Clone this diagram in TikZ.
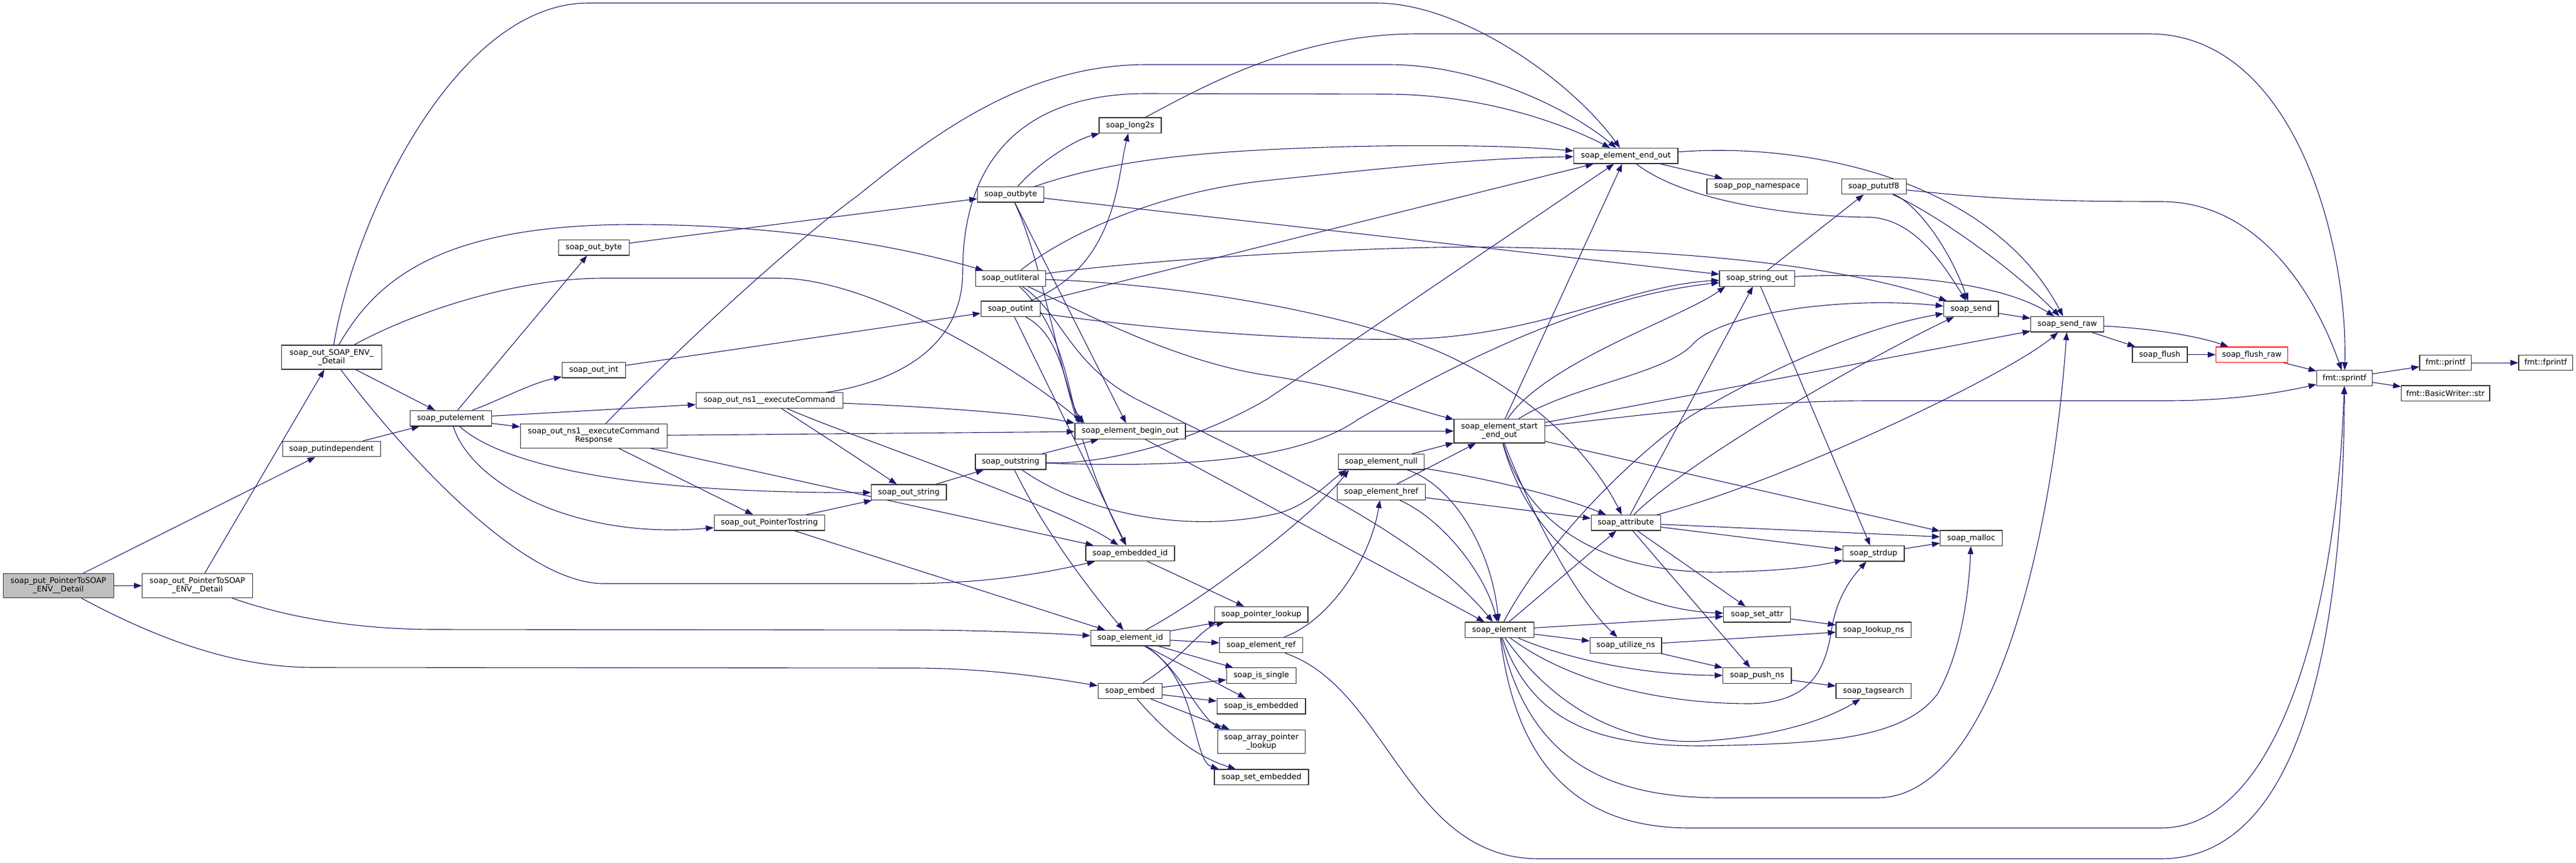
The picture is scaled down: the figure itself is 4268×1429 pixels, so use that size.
\documentclass[tikz,border=0pt]{standalone}
\usepackage{fontspec}
\setmainfont{DejaVu Sans}
\usetikzlibrary{arrows.meta,backgrounds}
\pgfdeclarelayer{paper}
\pgfdeclarelayer{background}
\pgfsetlayers{paper,background,main}
\definecolor{edgec}{HTML}{191970}
\tikzset{
  fn/.style={draw=black!80, line width=1.2pt, fill=white, inner sep=0pt, align=center,
    font=\fontsize{12.9pt}{14pt}\selectfont, minimum height=25.5pt},
  fntwo/.style={fn, minimum height=40pt},
  ln/.style={draw=edgec, line width=1.1pt, -{Triangle[length=13pt,width=9.5pt]}},
}
\begin{document}
\begin{tikzpicture}[x=1pt,y=-1pt]
\useasboundingbox (0,0) rectangle (4268,1429);
\begin{pgfonlayer}{paper}
\fill[white] (0,0) rectangle (4268,1429);
\end{pgfonlayer}
% nodes
\node[fntwo, minimum width=183pt, fill=black!25] (put) at (96.6,970.5) {soap\_put\_PointerToSOAP\\\_ENV\_\_Detail};
\node[fntwo, minimum width=183pt] (outP) at (327.1,970.5) {soap\_out\_PointerToSOAP\\\_ENV\_\_Detail};
\node[fntwo, minimum width=166pt] (outS) at (549.4,592) {soap\_out\_SOAP\_ENV\_\\\_Detail};
\node[fn, minimum width=162pt] (putind) at (549.1,744) {soap\_putindependent};
\node[fn, minimum width=135pt] (pe) at (746.9,693.2) {soap\_putelement};
\node[fn, minimum width=117pt] (outbyte0) at (983.8,410.3) {soap\_out\_byte};
\node[fn, minimum width=105pt] (outint0) at (983.8,613.2) {soap\_out\_int};
\node[fn, minimum width=243pt] (execC) at (1274.6,663.6) {soap\_out\_ns1\_\_executeCommand};
\node[fntwo, minimum width=243pt] (execR) at (983.8,722.3) {soap\_out\_ns1\_\_executeCommand\\Response};
\node[fn, minimum width=183pt] (ptrstr) at (1274.6,866.2) {soap\_out\_PointerTostring};
\node[fn, minimum width=124.4pt] (outstr0) at (1505.8,815.8) {soap\_out\_string};
\node[fn, minimum width=103pt] (long2s) at (1872.5,207.8) {soap\_long2s};
\node[fn, minimum width=110pt] (outbyte) at (1674.6,322.3) {soap\_outbyte};
\node[fn, minimum width=116pt] (outlit) at (1674.4,461.4) {soap\_outliteral};
\node[fn, minimum width=98pt] (outint) at (1674.3,511.8) {soap\_outint};
\node[fn, minimum width=183pt] (ebo) at (1872.4,714.5) {soap\_element\_begin\_out};
\node[fn, minimum width=117pt] (outstring) at (1674.4,765.3) {soap\_outstring};
\node[fn, minimum width=147pt] (embid) at (1872.4,916.9) {soap\_embedded\_id};
\node[fn, minimum width=131pt] (elid) at (1872.7,1057.3) {soap\_element\_id};
\node[fn, minimum width=106pt] (embed) at (1872.2,1145) {soap\_embed};
\node[fn, minimum width=154.5pt] (ptrlk) at (2089.8,1018.2) {soap\_pointer\_lookup};
\node[fn, minimum width=137.6pt] (elref) at (2089.5,1068.9) {soap\_element\_ref};
\node[fn, minimum width=115pt] (issingle) at (2089.8,1119.6) {soap\_is\_single};
\node[fn, minimum width=146.7pt] (isemb) at (2089.6,1170.3) {soap\_is\_embedded};
\node[fntwo, minimum width=145.3pt, minimum height=39.5pt] (arrptr) at (2089.8,1228.9) {soap\_array\_pointer\\\_lookup};
\node[fn, minimum width=156pt] (setemb) at (2090,1287.7) {soap\_set\_embedded};
\node[fn, minimum width=172.7pt] (eeo) at (2693.7,258.3) {soap\_element\_end\_out};
\node[fntwo, minimum width=150.6pt, minimum height=39.3pt] (eseo) at (2484.3,714.3) {soap\_element\_start\\\_end\_out};
\node[fn, minimum width=142pt] (enull) at (2288.4,765.3) {soap\_element\_null};
\node[fn, minimum width=145.5pt] (href) at (2288.4,815.5) {soap\_element\_href};
\node[fn, minimum width=115pt] (attr) at (2693.7,866.2) {soap\_attribute};
\node[fn, minimum width=114pt] (elem) at (2484.3,1043.8) {soap\_element};
\node[fn, minimum width=118.5pt] (utns) at (2693.7,1069.4) {soap\_utilize\_ns};
\node[fn, minimum width=166.7pt] (popns) at (2911.4,309) {soap\_pop\_namespace};
\node[fn, minimum width=107pt] (pututf8) at (3104.6,309) {soap\_pututf8};
\node[fn, minimum width=124.5pt] (strout) at (2911.3,461.4) {soap\_string\_out};
\node[fn, minimum width=90.4pt] (send) at (3265.8,511.8) {soap\_send};
\node[fn, minimum width=120.8pt] (sendraw) at (3425.1,537.3) {soap\_send\_raw};
\node[fn, minimum width=102.8pt] (malloc) at (3266,891.8) {soap\_malloc};
\node[fn, minimum width=101.5pt] (strdup) at (3104.2,917.2) {soap\_strdup};
\node[fn, minimum width=111pt] (setattr) at (2911.2,1018.2) {soap\_set\_attr};
\node[fn, minimum width=124.4pt] (lookupns) at (3104.2,1043.8) {soap\_lookup\_ns};
\node[fn, minimum width=113.4pt] (pushns) at (2911.3,1119.6) {soap\_push\_ns};
\node[fn, minimum width=124.4pt] (tagsearch) at (3104.2,1145.1) {soap\_tagsearch};
\node[fn, minimum width=91pt] (flush) at (3578.4,587.7) {soap\_flush};
\node[fn, minimum width=119pt, draw=red] (flushraw) at (3730.9,587.7) {soap\_flush\_raw};
\node[fn, minimum width=92pt] (sprintf) at (3884.4,626.6) {fmt::sprintf};
\node[fn, minimum width=85.7pt] (printf) at (4051.7,601.1) {fmt::printf};
\node[fn, minimum width=89.6pt] (fprintf) at (4217.7,601.1) {fmt::fprintf};
\node[fn, minimum width=146.4pt] (bwstr) at (4051.7,651.8) {fmt::BasicWriter::str};

\begin{pgfonlayer}{background}
% put
\draw[ln] (put) -- (outP);
\draw[ln] (put) -- (putind);
\draw[ln] (put) .. controls (300,1080) and (420,1106) .. (520,1106) -- (1520,1107) .. controls (1650,1108) and (1750,1125) .. (embed);
% outP
\draw[ln] (outP) -- (outS);
\draw[ln] (outP) .. controls (480,1025) and (600,1043) .. (720,1043) -- (1540,1044) .. controls (1650,1045) and (1750,1050) .. (elid);
% outS
\draw[ln] (outS) .. controls (590,350) and (760,5) .. (975,5) -- (2280,5) .. controls (2420,5) and (2600,130) .. (eeo);
\draw[ln] (outS) .. controls (620,470) and (720,372) .. (1050,372) .. controls (1300,372) and (1500,410) .. (outlit);
\draw[ln] (outS) .. controls (680,520) and (850,461) .. (1000,461) -- (1290,461) .. controls (1450,461) and (1700,620) .. ([xshift=14pt]ebo.north west);
\draw[ln] (outS) -- (pe);
\draw[ln] (outS) .. controls (630,700) and (850,967) .. (1000,967) -- (1500,967) .. controls (1650,967) and (1750,945) .. (embid);
% putindependent
\draw[ln] (putind) -- (pe);
% putelement
\draw[ln] (pe) -- (outbyte0);
\draw[ln] (pe) .. controls (830,662) and (880,635) .. (outint0);
\draw[ln] (pe) -- (execC);
\draw[ln] (pe) -- (execR);
\draw[ln] (pe) .. controls (780,800) and (950,895) .. (ptrstr);
\draw[ln] (pe) .. controls (820,760) and (1000,818) .. (outstr0);
% out_byte, out_int
\draw[ln] (outbyte0) -- (outbyte);
\draw[ln] (outint0) -- (outint);
% executeCommand
\draw[ln] (execC) .. controls (1440,640) and (1595,600) .. (1595,450) .. controls (1595,260) and (1700,155) .. (1900,155) -- (2300,156) .. controls (2450,157) and (2580,200) .. (eeo);
\draw[ln] (execC) .. controls (1500,672) and (1700,684) .. (ebo.north west);
\draw[ln] (execC) .. controls (1330,700) and (1400,745) .. (outstr0);
\draw[ln] (execC) .. controls (1400,720) and (1760,840) .. (embid);
% executeCommandResponse
\draw[ln] (execR) .. controls (1150,550) and (1330,390) .. (1420,325) .. controls (1550,220) and (1700,107) .. (1900,107) -- (2300,107) .. controls (2450,107) and (2600,180) .. (eeo);
\draw[ln] (execR) -- (ebo);
\draw[ln] (execR) -- (ptrstr);
\draw[ln] (execR) -- (embid);
% PointerTostring
\draw[ln] (ptrstr) -- (outstr0);
\draw[ln] (ptrstr) -- (elid);
% out_string
\draw[ln] (outstr0) -- (outstring);
% outbyte
\draw[ln] (outbyte) .. controls (1720,270) and (1780,232) .. (long2s);
\draw[ln] (outbyte) .. controls (1800,280) and (1900,258) .. (2100,248) .. controls (2300,238) and (2500,240) .. (eeo);
\draw[ln] (outbyte) -- (strout);
\draw[ln] (outbyte) -- (ebo);
\draw[ln] (outbyte) .. controls (1740,460) and (1760,700) .. (embid);
% outint
\draw[ln] (outint) .. controls (1850,440) and (1850,300) .. (long2s);
\draw[ln] (outint) -- (eeo);
\draw[ln] (outint) .. controls (1900,545) and (2150,565) .. (2330,562) .. controls (2550,558) and (2700,472) .. (strout);
\draw[ln] (outint) -- (embid);
\draw[ln] (outint) .. controls (1765,560) and (1765,660) .. ([xshift=16pt]ebo.north west);
% outliteral
\draw[ln] (outlit) .. controls (1750,400) and (1900,320) .. (2100,299) .. controls (2300,278) and (2450,262) .. (eeo);
\draw[ln] (outlit) .. controls (1900,430) and (2300,405) .. (2500,410) .. controls (2800,415) and (3050,440) .. (send);
\draw[ln] (outlit) .. controls (1950,470) and (2250,520) .. (2400,590) .. controls (2550,660) and (2640,760) .. (attr);
\draw[ln] (outlit) .. controls (1760,520) and (1770,600) .. (1880,660) .. controls (2100,770) and (2350,880) .. (elem);
\draw[ln] (outlit) .. controls (1760,540) and (1770,650) .. ([xshift=8pt]ebo.north west);
\draw[ln] (outlit) .. controls (1800,520) and (1950,600) .. (2100,622) .. controls (2250,645) and (2350,680) .. (eseo);
% outstring
\draw[ln] (outstring) -- (ebo);
\draw[ln] (outstring) .. controls (1850,770) and (2000,720) .. (2100,661) -- (eeo);
\draw[ln] (outstring) .. controls (1950,775) and (2150,765) .. (2250,695) .. controls (2450,580) and (2650,490) .. (strout);
\draw[ln] (outstring) .. controls (1780,840) and (1950,890) .. (2120,850) .. controls (2170,835) and (2200,800) .. ([xshift=14pt]enull.south west);
\draw[ln] (outstring) .. controls (1720,860) and (1790,960) .. (elid);
% long2s
\draw[ln] (long2s) .. controls (2000,140) and (2150,56) .. (2350,56) -- (3560,56) .. controls (3800,56) and (3890,400) .. (sprintf);
% element_begin_out
\draw[ln] (ebo) -- (eseo);
\draw[ln] (ebo) -- (elem);
% embedded_id
\draw[ln] (embid) -- (ptrlk);
% element_id
\draw[ln] (elid) .. controls (2000,990) and (2180,850) .. ([xshift=18pt]enull.south west);
\draw[ln] (elid) -- (ptrlk);
\draw[ln] (elid) -- (elref);
\draw[ln] (elid) -- (issingle);
\draw[ln] (elid) -- (isemb);
\draw[ln] (elid) .. controls (1950,1100) and (1985,1185) .. ([xshift=8pt]arrptr.north west);
\draw[ln] (elid) .. controls (1985,1120) and (1975,1260) .. ([xshift=8pt]setemb.north west);
% embed
\draw[ln] (embed) .. controls (1960,1090) and (1990,1040) .. (ptrlk);
\draw[ln] (embed) -- (issingle);
\draw[ln] (embed) -- (isemb);
\draw[ln] (embed) -- (arrptr);
\draw[ln] (embed) .. controls (1920,1200) and (1970,1250) .. (setemb);
% element_ref
\draw[ln] (elref) .. controls (2200,1030) and (2270,930) .. (href);
\draw[ln] (elref) .. controls (2300,1140) and (2330,1423) .. (2550,1423) -- (3580,1423) .. controls (3800,1423) and (3882,1100) .. (sprintf);
% element_null
\draw[ln] (enull) -- (eseo);
\draw[ln] (enull) .. controls (2450,790) and (2580,820) .. (attr);
\draw[ln] (enull) .. controls (2400,800) and (2470,900) .. (elem);
% element_href
\draw[ln] (href) -- (eseo);
\draw[ln] (href) -- (attr);
\draw[ln] (href) .. controls (2390,860) and (2460,950) .. (elem);
% element_start_end_out
\draw[ln] (eseo) -- (eeo);
\draw[ln] (eseo) .. controls (2560,600) and (2790,525) .. ([xshift=10pt]strout.south west);
\draw[ln] (eseo) .. controls (2600,640) and (2760,620) .. (2805,570) .. controls (2850,520) and (3050,490) .. (send);
\draw[ln] (eseo) -- (sendraw);
\draw[ln] (eseo) .. controls (2700,690) and (2900,664) .. (3100,664) -- (3590,664) .. controls (3700,664) and (3780,650) .. (sprintf);
\draw[ln] (eseo) -- (malloc);
\draw[ln] (eseo) .. controls (2530,830) and (2600,980) .. (utns);
\draw[ln] (eseo) .. controls (2540,900) and (2700,950) .. (2850,948) .. controls (2950,946) and (3000,940) .. (strdup);
\draw[ln] (eseo) .. controls (2540,920) and (2700,1010) .. (setattr);
% element_end_out
\draw[ln] (eeo) -- (popns);
\draw[ln] (eeo) .. controls (2800,340) and (3000,360) .. (3100,360) .. controls (3170,365) and (3215,430) .. (send);
\draw[ln] (eeo) .. controls (3000,235) and (3300,300) .. (sendraw);
% element
\draw[ln] (elem) .. controls (2560,900) and (2700,760) .. (2800,690) .. controls (2950,600) and (3100,540) .. (send);
\draw[ln] (elem) -- (attr);
\draw[ln] (elem) -- (setattr);
\draw[ln] (elem) -- (utns);
\draw[ln] (elem) .. controls (2580,1085) and (2700,1118) .. (pushns);
\draw[ln] (elem) .. controls (2600,1130) and (2750,1166) .. (2900,1166) .. controls (3000,1164) and (3025,1110) .. (3035,1040) .. controls (3045,985) and (3070,955) .. (strdup);
\draw[ln] (elem) .. controls (2580,1180) and (2700,1235) .. (2820,1228) .. controls (2950,1220) and (3030,1190) .. (tagsearch);
\draw[ln] (elem) .. controls (2540,1200) and (2650,1236) .. (2820,1236) .. controls (3000,1232) and (3150,1230) .. (3210,1150) .. controls (3250,1080) and (3262,980) .. (malloc);
\draw[ln] (elem) .. controls (2530,1250) and (2650,1322) .. (2850,1322) -- (3110,1322) .. controls (3300,1322) and (3400,900) .. (sendraw);
\draw[ln] (elem) .. controls (2510,1250) and (2600,1372) .. (2800,1372) -- (3580,1372) .. controls (3780,1372) and (3872,1000) .. (sprintf);
% attribute
\draw[ln] (attr) -- (strout);
\draw[ln] (attr) .. controls (2800,760) and (3100,590) .. (send);
\draw[ln] (attr) .. controls (2950,800) and (3330,620) .. (sendraw);
\draw[ln] (attr) -- (malloc);
\draw[ln] (attr) -- (strdup);
\draw[ln] (attr) -- (setattr);
\draw[ln] (attr) -- (pushns);
% utilize_ns
\draw[ln] (utns) -- (lookupns);
\draw[ln] (utns) -- (pushns);
% string_out
\draw[ln] (strout) -- (pututf8);
\draw[ln] (strout) .. controls (3100,452) and (3300,460) .. (sendraw);
\draw[ln] (strout) -- (strdup);
% pututf8
\draw[ln] (pututf8) .. controls (3170,335) and (3225,400) .. (send);
\draw[ln] (pututf8) .. controls (3200,350) and (3330,440) .. (sendraw);
\draw[ln] (pututf8) .. controls (3300,330) and (3400,334) .. (3580,334) .. controls (3750,334) and (3840,500) .. (sprintf);
% rest
\draw[ln] (send) -- (sendraw);
\draw[ln] (sendraw) -- (flush);
\draw[ln] (sendraw) .. controls (3580,545) and (3650,560) .. (flushraw);
\draw[ln] (flush) -- (flushraw);
\draw[ln] (flushraw) -- (sprintf);
\draw[ln] (sprintf) -- (printf);
\draw[ln] (sprintf) -- (bwstr);
\draw[ln] (printf) -- (fprintf);
\draw[ln] (setattr) -- (lookupns);
\draw[ln] (pushns) -- (tagsearch);
\draw[ln] (strdup) -- (malloc);
\end{pgfonlayer}
\end{tikzpicture}
\end{document}
